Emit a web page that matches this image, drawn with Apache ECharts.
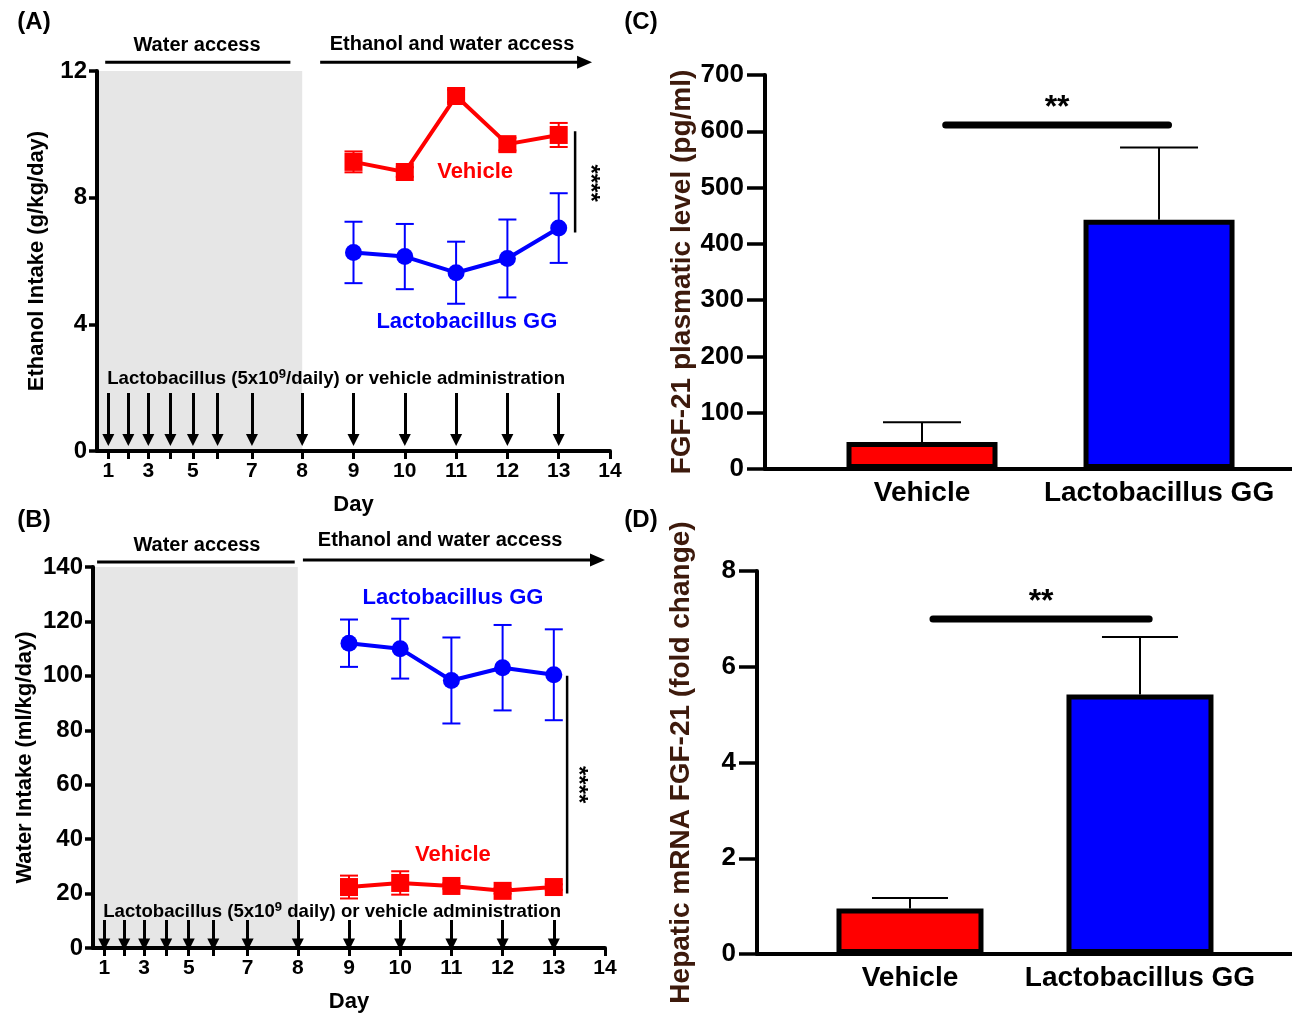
<!DOCTYPE html>
<html><head><meta charset="utf-8">
<script src="https://cdn.jsdelivr.net/npm/echarts@6/dist/echarts.min.js"></script>
<style>html,body{margin:0;padding:0;background:#fff}#c{width:1292px;height:1015px}</style>
</head><body><div id="c"></div>
<script>
// ---------------- data ----------------
const treatmentDays = [9, 10, 11, 12, 13];
const adminDays = [1, 2, 3, 4, 5, 6, 7, 8, 9, 10, 11, 12, 13];
const dayTicks = [1, 2, 3, 4, 5, 6, 7, 8, 9, 10, 11, 12, 13, 14];
const labelledDays = [1, 3, 5, 7, 8, 9, 10, 11, 12, 13, 14];
// axis position of each day: the original day axis is compressed before day 8
const dayAxisPos = [4.22, 4.61, 5.0, 5.43, 5.87, 6.35, 7.02, 8, 9, 10, 11, 12, 13, 14];

const ethanolVehicle = [9.13, 8.81, 11.21, 9.69, 9.98];
const ethanolVehicleSem = [0.33, 0.15, 0.2, 0.2, 0.38];
const ethanolLGG = [6.27, 6.14, 5.63, 6.08, 7.04];
const ethanolLGGSem = [0.97, 1.03, 0.98, 1.23, 1.1];

const waterLGG = [112, 110, 98.3, 103, 100.4];
const waterLGGSem = [8.7, 11, 15.8, 15.7, 16.7];
const waterVehicle = [22.4, 23.9, 22.8, 21, 22.4];
const waterVehicleSem = [4.2, 4.3, 1, 1, 1];

const groups = ['Vehicle', 'Lactobacillus GG'];
const fgfPlasma = [48, 443];
const fgfPlasmaSem = [35, 128];
const fgfMrna = [0.95, 5.42];
const fgfMrnaSem = [0.22, 1.2];

const ethanolTicks = [0, 4, 8, 12];
const waterTicks = [0, 20, 40, 60, 80, 100, 120, 140];
const plasmaTicks = [0, 100, 200, 300, 400, 500, 600, 700];
const mrnaTicks = [0, 2, 4, 6, 8];

// ---------------- chart ----------------
const FONT = "'Liberation Sans', Arial, Helvetica, sans-serif";
const RED = '#ff0000', BLUE = '#0000ff', BROWN = '#3d1a0c';
const chart = echarts.init(document.getElementById('c'));
const posOf = d => dayAxisPos[dayTicks.indexOf(d)];
const dayOfPos = v => dayTicks[dayAxisPos.findIndex(p => Math.abs(p - v) < 1e-6)];

function dayXAxis(gi) {
  return {
    gridIndex: gi, type: 'value', min: 4, max: 14,
    name: 'Day', nameLocation: 'middle', nameGap: 43,
    nameTextStyle: { fontFamily: FONT, fontWeight: 'bold', fontSize: 22, color: '#000' },
    axisLine: { show: true, onZero: false, lineStyle: { color: '#000', width: 4 } },
    axisTick: { show: true, customValues: dayAxisPos, length: 8, lineStyle: { color: '#000', width: 3 } },
    axisLabel: { customValues: labelledDays.map(posOf), formatter: v => String(dayOfPos(v)),
      fontFamily: FONT, fontWeight: 'bold', fontSize: 21, color: '#000', margin: 10 },
    splitLine: { show: false }
  };
}
function groupXAxis(gi, min, max) {
  return {
    gridIndex: gi, type: 'value', min: min, max: max,
    axisLine: { show: true, onZero: false, lineStyle: { color: '#000', width: 4 } },
    axisTick: { show: false },
    axisLabel: { customValues: [1, 2], formatter: v => groups[Math.round(v) - 1],
      fontFamily: FONT, fontWeight: 'bold', fontSize: 28, color: '#000', margin: 10 },
    splitLine: { show: false }
  };
}
function yAx(gi, ticks, name, nameGap, fs, nfs, ncolor, tickLen, margin) {
  return {
    gridIndex: gi, type: 'value', min: ticks[0], max: ticks[ticks.length - 1],
    interval: ticks[1] - ticks[0],
    name: name, nameLocation: 'middle', nameGap: nameGap, nameRotate: 90,
    nameTextStyle: { fontFamily: FONT, fontWeight: 'bold', fontSize: nfs, color: ncolor },
    axisLine: { show: true, onZero: false, lineStyle: { color: '#000', width: 4 } },
    axisTick: { show: true, length: tickLen, lineStyle: { color: '#000', width: 3.5 } },
    axisLabel: { fontFamily: FONT, fontWeight: 'bold', fontSize: fs, color: '#000', margin: margin },
    splitLine: { show: false }
  };
}
function errorBars(gi, xs, means, sems, color, capHalf, both, lw) {
  return {
    type: 'custom', xAxisIndex: gi, yAxisIndex: gi, z: 2, silent: true,
    data: xs.map((x, i) => [x, means[i] - sems[i], means[i] + sems[i], means[i]]),
    renderItem: (params, api) => {
      const x = api.value(0);
      const lo = api.coord([x, both ? api.value(1) : api.value(3)]);
      const hi = api.coord([x, api.value(2)]);
      const st = { stroke: color, lineWidth: lw };
      const ch = [
        { type: 'line', shape: { x1: hi[0], y1: hi[1], x2: lo[0], y2: lo[1] }, style: st },
        { type: 'line', shape: { x1: hi[0] - capHalf, y1: hi[1], x2: hi[0] + capHalf, y2: hi[1] }, style: st }
      ];
      if (both) ch.push({ type: 'line', shape: { x1: lo[0] - capHalf, y1: lo[1], x2: lo[0] + capHalf, y2: lo[1] }, style: st });
      return { type: 'group', children: ch };
    }
  };
}
function shading(gi, x0, x1, y0, y1) {
  return {
    type: 'custom', xAxisIndex: gi, yAxisIndex: gi, z: 0, silent: true,
    data: [[x0, x1, y0, y1]],
    renderItem: (params, api) => {
      const a = api.coord([api.value(0), api.value(3)]);
      const b = api.coord([api.value(1), api.value(2)]);
      return { type: 'rect', shape: { x: a[0], y: a[1], width: b[0] - a[0], height: b[1] - a[1] },
        style: { fill: '#e6e6e6' } };
    }
  };
}
function adminArrows(gi, yFrom, yTo) {
  return {
    type: 'lines', coordinateSystem: 'cartesian2d', xAxisIndex: gi, yAxisIndex: gi, z: 3, silent: true,
    symbol: ['none', 'triangle'], symbolSize: [10, 12],
    lineStyle: { color: '#000', width: 3, opacity: 1 },
    data: adminDays.map(d => ({ coords: [[posOf(d), yFrom], [posOf(d), yTo]] }))
  };
}
function meanLine(gi, xs, ys, color, symbol, size) {
  return {
    type: 'line', xAxisIndex: gi, yAxisIndex: gi, z: 4, silent: true,
    data: xs.map((x, i) => [x, ys[i]]),
    symbol: symbol, symbolSize: size, showAllSymbol: true,
    lineStyle: { color: color, width: 4 }, itemStyle: { color: color, borderWidth: 0 }
  };
}
function plainLine(gi, pts, width, cap) {
  return {
    type: 'line', xAxisIndex: gi, yAxisIndex: gi, z: 4, silent: true, symbol: 'none',
    data: pts, lineStyle: { color: '#000', width: width, cap: cap || 'butt' }
  };
}
function bars(gi, vals, width) {
  return {
    type: 'bar', xAxisIndex: gi, yAxisIndex: gi, z: 3, barWidth: width, silent: true,
    data: vals.map((v, i) => ({ value: [i + 1, v], itemStyle: { color: i === 0 ? RED : BLUE } })),
    itemStyle: { borderColor: '#000', borderWidth: 5 }
  };
}

const option = {
  animation: false,
  backgroundColor: '#fff',
  grid: [
    { left: 97, top: 71, width: 513, height: 380 },
    { left: 93, top: 567, width: 512, height: 381 },
    { left: 765, top: 75, width: 527, height: 394 },
    { left: 757, top: 571, width: 535, height: 383 }
  ],
  xAxis: [dayXAxis(0), dayXAxis(1), groupXAxis(2, 0.3376, 2.561), groupXAxis(3, 0.3348, 2.661)],
  yAxis: [
    yAx(0, ethanolTicks, 'Ethanol Intake (g/kg/day)', 49, 24, 22, '#000', 8, 10),
    yAx(1, waterTicks, 'Water Intake (ml/kg/day)', 57, 24, 22, '#000', 8, 10),
    yAx(2, plasmaTicks, 'FGF-21 plasmatic level (pg/ml)', 67, 26, 28, BROWN, 18, 21),
    yAx(3, mrnaTicks, 'Hepatic mRNA FGF-21 (fold change)', 62, 26, 28, BROWN, 18, 21)
  ],
  series: [
    shading(0, 4, 8, 0, 12),
    adminArrows(0, 1.83, 0.35),
    errorBars(0, treatmentDays, ethanolVehicle, ethanolVehicleSem, RED, 9, true, 2),
    errorBars(0, treatmentDays, ethanolLGG, ethanolLGGSem, BLUE, 9, true, 2),
    meanLine(0, treatmentDays, ethanolVehicle, RED, 'rect', 18),
    meanLine(0, treatmentDays, ethanolLGG, BLUE, 'circle', 17),
    plainLine(0, [[13.32, 10.1], [13.32, 6.9]], 2.5),

    shading(1, 4, 8, 0, 140),
    adminArrows(1, 10.3, 1.3),
    errorBars(1, treatmentDays, waterLGG, waterLGGSem, BLUE, 9, true, 2),
    errorBars(1, treatmentDays, waterVehicle, waterVehicleSem, RED, 9, true, 2),
    meanLine(1, treatmentDays, waterLGG, BLUE, 'circle', 17),
    meanLine(1, treatmentDays, waterVehicle, RED, 'rect', 18),
    plainLine(1, [[13.26, 100], [13.26, 20]], 2.5),

    errorBars(2, [1, 2], fgfPlasma, fgfPlasmaSem, '#000', 39, false, 2),
    bars(2, fgfPlasma, 151),
    plainLine(2, [[1.1, 611], [2.04, 611]], 7, 'round'),

    errorBars(3, [1, 2], fgfMrna, fgfMrnaSem, '#000', 38, false, 2),
    bars(3, fgfMrna, 147),
    plainLine(3, [[1.1, 7.0], [2.04, 7.0]], 7, 'round')
  ]
};
chart.setOption(option);

// ---------------- annotations (placed through the axes) ----------------
const P = (gi, x, y) => chart.convertToPixel({ xAxisIndex: gi, yAxisIndex: gi }, [x, y]);
function txt(p, text, size, color, align, extra) {
  return Object.assign({ type: 'text', x: p[0], y: p[1], silent: true,
    style: { text: text, fill: color || '#000', font: 'bold ' + size + 'px ' + FONT,
      align: align || 'center', verticalAlign: 'middle' } }, extra || {});
}
function hline(p0, p1, w) {
  return { type: 'line', silent: true, shape: { x1: p0[0], y1: p0[1], x2: p1[0], y2: p1[1] },
    style: { stroke: '#000', lineWidth: w } };
}
function arrow(p0, p1) {
  const tip = p1[0], y = p1[1];
  return [hline(p0, [tip - 10, y], 3),
    { type: 'polygon', silent: true, shape: { points: [[tip, y], [tip - 15, y - 6.5], [tip - 15, y + 6.5]] },
      style: { fill: '#000' } }];
}
function adminText(p, sep) {
  return { type: 'text', x: p[0], y: p[1], silent: true,
    style: { text: '{n|Lactobacillus (5x10}{s|9}{n|' + sep + 'daily) or vehicle administration}',
      align: 'left', verticalAlign: 'middle',
      rich: {
        n: { fontFamily: FONT, fontWeight: 'bold', fontSize: 18.6, fill: '#000', lineHeight: 20, verticalAlign: 'bottom' },
        s: { fontFamily: FONT, fontWeight: 'bold', fontSize: 13, fill: '#000', lineHeight: 20, verticalAlign: 'top' }
      } } };
}
const g = [];
// panel letters
g.push(txt([34, 22], '(A)', 24, '#000'));
g.push(txt([34, 520], '(B)', 24, '#000'));
g.push(txt([641, 22], '(C)', 24, '#000'));
g.push(txt([641, 520], '(D)', 24, '#000'));
// panel A
g.push(txt(P(0, 5.95, 12.79), 'Water access', 20));
g.push(hline(P(0, 4.16, 12.28), P(0, 7.77, 12.28), 3));
g.push(txt(P(0, 10.92, 12.85), 'Ethanol and water access', 20));
g.push(...arrow(P(0, 8.35, 12.28), P(0, 13.65, 12.28)));
g.push(adminText(P(0, 4.2, 2.3), '/'));
g.push(txt(P(0, 11.37, 8.81), 'Vehicle', 22, RED));
g.push(txt(P(0, 11.21, 4.07), 'Lactobacillus GG', 22, BLUE));
g.push(txt(P(0, 13.6, 8.46), '****', 24, '#000', 'center', { rotation: -Math.PI / 2 }));
// panel B
g.push(txt(P(1, 6.03, 148.0), 'Water access', 20));
g.push(hline(P(1, 4.08, 141.8), P(1, 7.94, 141.8), 3));
g.push(txt(P(1, 10.78, 149.6), 'Ethanol and water access', 20));
g.push(...arrow(P(1, 8.1, 142.6), P(1, 14.0, 142.6)));
g.push(adminText(P(1, 4.2, 13.6), ' '));
g.push(txt(P(1, 11.03, 128.7), 'Lactobacillus GG', 22, BLUE));
g.push(txt(P(1, 11.03, 34.2), 'Vehicle', 22, RED));
g.push(txt(P(1, 13.47, 60), '****', 24, '#000', 'center', { rotation: -Math.PI / 2 }));
// panels C, D
g.push(txt(P(2, 1.57, 641), '**', 32));
g.push(txt(P(3, 1.57, 7.35), '**', 32));
chart.setOption({ graphic: g });
</script>
</body></html>
